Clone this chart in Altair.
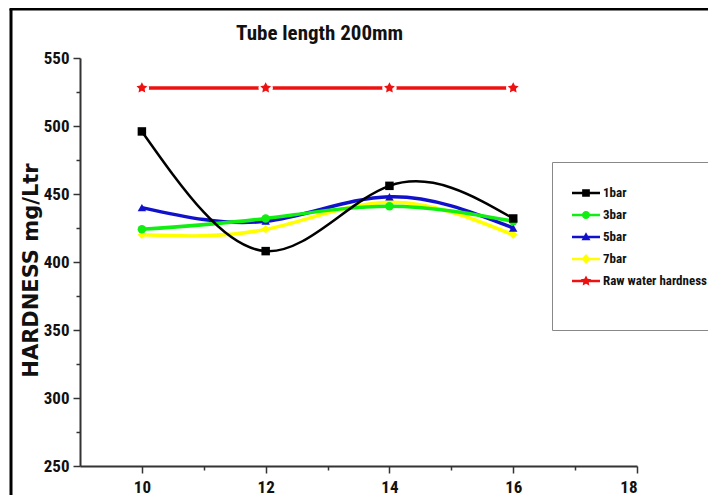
import altair as alt
import pandas as pd
import math

# ---- data ----
chart_title = "Tube length 200mm"
tube_x = [10, 12, 14, 16]
series_names = ["1bar", "3bar", "5bar", "7bar", "Raw water hardness"]
bar1 = [496, 408, 456, 432]
bar3 = [424, 432, 441, 430]
bar5 = [440, 430, 448, 425]
bar7 = [420, 424, 444, 420]
raw_water = [528, 528, 528, 528]
series_colors = ["#000000", "#11EE11", "#1111CC", "#FFFF00", "#EE1111"]

x_ticks = [10, 11, 12, 13, 14, 15, 16, 17, 18]
y_ticks = list(range(250, 551, 25))

values_by_series = {
    "Raw water hardness": raw_water,
    "7bar": bar7,
    "5bar": bar5,
    "3bar": bar3,
    "1bar": bar1,
}
rows = []
for name, vals in values_by_series.items():
    for xv, yv in zip(tube_x, vals):
        rows.append({"x": xv, "y": yv, "series": name})
df = pd.DataFrame(rows)


def star_path(s, dx=0.0, inner=0.5):
    pts = []
    for i in range(10):
        ang = math.radians(-90 + 36 * i)
        r = s if i % 2 == 0 else s * inner
        pts.append((dx + r * math.cos(ang), r * math.sin(ang)))
    return "M" + "L".join(f"{px:.3f},{py:.3f}" for px, py in pts) + "Z"


plot_shapes = ["square", "circle", "triangle-up", "diamond", star_path(1.0)]

D = 0.4286  # shift of legend glyphs (in symbol units)
LINE = f"M{-2 + D:.3f},-0.17H{2 + D:.3f}V0.17H{-2 + D:.3f}Z"
legend_shapes = [
    LINE + f"M{D - 0.55:.3f},-0.55H{D + 0.55:.3f}V0.55H{D - 0.55:.3f}Z",
    LINE + f"M{D + 0.58:.3f},0A0.58,0.58 0 1,1 {D - 0.58:.3f},0A0.58,0.58 0 1,1 {D + 0.58:.3f},0Z",
    LINE + f"M{D:.3f},-0.68L{D + 0.64:.3f},0.48L{D - 0.64:.3f},0.48Z",
    LINE + f"M{D:.3f},-0.7L{D + 0.66:.3f},0L{D:.3f},0.7L{D - 0.66:.3f},0Z",
    LINE + star_path(0.8, D),
]

NARROW = "Roboto Condensed, DejaVu Sans Condensed, Liberation Sans Narrow, Liberation Sans"

x_enc = alt.X("x:Q", scale=alt.Scale(domain=[9, 18], nice=False, zero=False),
              axis=alt.Axis(title=None, values=x_ticks, grid=False,
                            labelExpr="datum.value % 2 == 0 ? datum.label : ''",
                            tickSize={"condition": {"test": "datum.value % 2 == 0", "value": 7}, "value": 4},
                            labelPadding=6))
y_enc = alt.Y("y:Q", scale=alt.Scale(domain=[250, 550], nice=False, zero=False),
              axis=alt.Axis(title="HARDNESS mg/Ltr", values=y_ticks, grid=False,
                            labelExpr="datum.value % 50 == 0 ? datum.label : ''",
                            tickSize={"condition": {"test": "datum.value % 50 == 0", "value": 7}, "value": 4},
                            labelPadding=4, titlePadding=2, titleY=212,
                            titleFont="DejaVu Sans", titleFontSize=21, titleFontWeight="bold",
                            titleColor="#111"))

color_scale = alt.Scale(domain=series_names, range=series_colors)
is_raw = alt.datum.series == "Raw water hardness"
is_1bar = alt.datum.series == "1bar"

base = alt.Chart(df)

lines = base.mark_line(interpolate="natural").encode(
    x=x_enc, y=y_enc,
    color=alt.Color("series:N", scale=color_scale, legend=None),
    strokeWidth=alt.condition(is_1bar, alt.value(2.5), alt.value(3.5)),
    detail="series:N",
)

halo = base.transform_filter(is_raw).mark_point(
    shape="circle", filled=True, color="white", size=210, opacity=1
).encode(x=x_enc, y=y_enc)

points = base.mark_point(filled=True, opacity=1).encode(
    x=x_enc, y=y_enc,
    color=alt.Color("series:N", scale=color_scale, legend=None),
    shape=alt.Shape("series:N", scale=alt.Scale(domain=series_names, range=plot_shapes), legend=None),
    size=alt.condition(is_raw, alt.value(130), alt.value(72)),
)

legend_params = dict(title=" ", titleOrient="bottom", titleFontSize=14, titlePadding=4,
                     orient="none", legendX=472, legendY=104,
                     padding=24, strokeColor="#888888", fillColor="white",
                     labelFont=NARROW, labelFontSize=13, labelFontWeight="bold",
                     labelColor="#111", symbolSize=196, labelOffset=13,
                     rowPadding=8, symbolStrokeWidth=0, labelLimit=400)

legend_layer = base.transform_filter("false").mark_point(filled=True, opacity=1).encode(
    x=x_enc, y=y_enc,
    color=alt.Color("series:N", scale=alt.Scale(domain=series_names, range=series_colors),
                    legend=alt.Legend(**legend_params)),
    shape=alt.Shape("series:N", scale=alt.Scale(domain=series_names, range=legend_shapes),
                    legend=alt.Legend(**legend_params)),
)

title_mark = alt.Chart(alt.Data(values=[{"t": chart_title}])).mark_text(
    font=NARROW, fontSize=21, fontWeight="bold", color="#111", align="left", baseline="alphabetic"
).encode(x=alt.value(156), y=alt.value(-18), text="t:N")

frame_data = alt.Data(values=[{"k": 1}])
frame_left = alt.Chart(frame_data).mark_rule(color="black", strokeWidth=3).encode(
    x=alt.value(-69), y=alt.value(-49), y2=alt.value(440))
frame_top = alt.Chart(frame_data).mark_rule(color="black", strokeWidth=3).encode(
    x=alt.value(-70.5), x2=alt.value(700), y=alt.value(-49))

chart = alt.layer(frame_left, frame_top, title_mark, lines, halo, points, legend_layer).resolve_scale(
    color="independent", shape="independent"
).properties(
    width=557, height=408,
    background="white",
    autosize=alt.AutoSizeParams(type="none"),
    padding={"left": 72, "top": 50, "right": 71, "bottom": 29},
).configure_view(stroke=None).configure_axis(
    domainColor="#333", domainWidth=2, tickColor="#333", tickWidth=1.5,
    labelFont=NARROW, labelFontSize=17, labelFontWeight="bold", labelColor="#111",
)

chart.save("out.html", embed_options={"renderer": "svg", "actions": False})
